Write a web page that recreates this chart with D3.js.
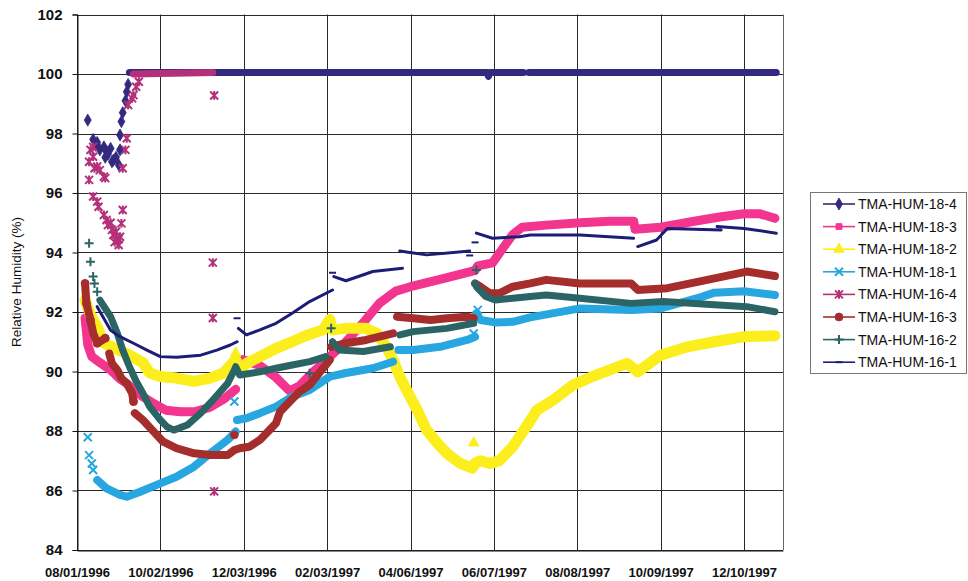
<!DOCTYPE html>
<html>
<head>
<meta charset="utf-8">
<script src="https://cdn.jsdelivr.net/npm/d3@7"></script>
<style>
  body { margin: 0; background: #ffffff; }
  svg text { font-family: "Liberation Sans", Arial, Helvetica, sans-serif; }
</style>
</head>
<body>
<svg id="chart" width="968" height="581"></svg>
<script>
// ---------- data ----------
const tickDates = ["1996-08-01", "1996-10-02", "1996-12-03", "1997-02-03", "1997-04-06",
                   "1997-06-07", "1997-08-08", "1997-10-09", "1997-12-10"];
const yTicks = [84, 86, 88, 90, 92, 94, 96, 98, 100, 102];
const axisStart = "1996-08-01";
const axisEnd = "1998-01-08";

const seriesNames = ["TMA-HUM-18-4", "TMA-HUM-18-3", "TMA-HUM-18-2", "TMA-HUM-18-1",
                     "TMA-HUM-16-4", "TMA-HUM-16-3", "TMA-HUM-16-2", "TMA-HUM-16-1"];

// continuous readings (null = break in the record) and isolated readings
const hum18_4Band = [["1996-09-09", 100.05], ["1997-06-02", 100.05], ["1997-06-03", 99.92],
  ["1997-06-04", 100.05], ["1997-06-29", 100.05], null, ["1997-07-03", 100.05], ["1998-01-03", 100.05]];
const hum18_4Spots = [["1996-08-09", 98.45], ["1996-08-13", 97.8], ["1996-08-15", 97.6], ["1996-08-16", 97.7],
  ["1996-08-18", 97.45], ["1996-08-21", 97.55], ["1996-08-22", 97.2], ["1996-08-23", 97.4], ["1996-08-24", 97.3],
  ["1996-08-26", 97.5], ["1996-08-27", 97.05], ["1996-08-28", 97.1], ["1996-08-30", 97.2], ["1996-09-01", 96.95],
  ["1996-09-02", 97.45], ["1996-09-02", 97.95], ["1996-09-03", 98.4], ["1996-09-04", 98.7], ["1996-09-06", 99.1],
  ["1996-09-07", 99.4], ["1996-09-08", 99.65]];

const hum18_3Band = [["1996-08-07", 91.8], ["1996-08-09", 90.9], ["1996-08-12", 90.5], ["1996-08-18", 90.3],
  ["1996-08-26", 90.05], ["1996-09-02", 89.75], ["1996-09-07", 89.6], ["1996-09-13", 89.35], ["1996-09-19", 89.15],
  ["1996-09-28", 88.9], ["1996-10-06", 88.7], ["1996-10-17", 88.65], ["1996-10-28", 88.65], ["1996-11-08", 88.8],
  ["1996-11-19", 89.1], ["1996-11-27", 89.4], null,
  ["1996-12-02", 90.4], ["1996-12-15", 90.2], ["1996-12-27", 89.8], ["1997-01-06", 89.35], ["1997-01-13", 89.5],
  ["1997-01-24", 90.0], ["1997-02-05", 90.5], ["1997-02-17", 91.0], ["1997-03-03", 91.7], ["1997-03-14", 92.3],
  ["1997-03-26", 92.7], ["1997-04-06", 92.85], ["1997-04-28", 93.1], ["1997-05-20", 93.35], ["1997-05-24", 93.4],
  ["1997-05-26", 93.55], ["1997-06-06", 93.65], ["1997-06-13", 94.1], ["1997-06-21", 94.6], ["1997-06-28", 94.85],
  ["1997-07-16", 94.92], ["1997-08-10", 95.0], ["1997-09-01", 95.05], ["1997-09-19", 95.05], ["1997-09-20", 94.78],
  ["1997-10-09", 94.85], ["1997-11-03", 95.05], ["1997-11-23", 95.2], ["1997-12-10", 95.3], ["1997-12-22", 95.3],
  ["1998-01-02", 95.15]];
const hum18_3Spots = [];

const hum18_2Band = [["1996-08-07", 92.4], ["1996-08-11", 91.9], ["1996-08-16", 91.5], ["1996-08-21", 90.95],
  ["1996-08-26", 90.85], ["1996-09-07", 90.6], ["1996-09-19", 90.3], ["1996-09-24", 89.95], ["1996-10-02", 89.83],
  ["1996-10-14", 89.78], ["1996-10-27", 89.67], ["1996-11-08", 89.78], ["1996-11-18", 89.95], ["1996-11-23", 90.2],
  ["1996-11-27", 90.4], ["1996-11-30", 90.05], ["1996-12-05", 90.27], ["1996-12-15", 90.5], ["1996-12-27", 90.78],
  ["1997-01-08", 91.0], ["1997-01-18", 91.2], ["1997-01-31", 91.4], ["1997-02-05", 91.75], ["1997-02-07", 91.4],
  ["1997-02-17", 91.45], ["1997-03-04", 91.45], ["1997-03-12", 91.28], ["1997-03-19", 90.83], ["1997-03-24", 90.39],
  ["1997-03-29", 89.83], ["1997-04-03", 89.38], ["1997-04-11", 88.7], ["1997-04-18", 88.03], ["1997-04-26", 87.59],
  ["1997-05-03", 87.25], ["1997-05-13", 86.91], ["1997-05-22", 86.75], ["1997-05-24", 86.92], ["1997-05-28", 87.0],
  ["1997-06-04", 86.91], ["1997-06-11", 87.0], ["1997-06-21", 87.47], ["1997-07-01", 88.14], ["1997-07-09", 88.7],
  ["1997-07-21", 89.04], ["1997-08-05", 89.55], ["1997-08-22", 89.88], ["1997-09-14", 90.27], ["1997-09-22", 89.99],
  ["1997-10-09", 90.55], ["1997-10-29", 90.83], ["1997-11-18", 91.0], ["1997-12-10", 91.17], ["1998-01-02", 91.2]];
const hum18_2Spots = [["1996-11-27", 90.62], ["1997-05-23", 87.6]];

const hum18_1Band = [["1996-08-16", 86.35], ["1996-08-23", 86.07], ["1996-09-02", 85.85], ["1996-09-07", 85.79],
  ["1996-09-17", 85.96], ["1996-10-02", 86.24], ["1996-10-14", 86.46], ["1996-10-27", 86.8], ["1996-11-08", 87.25],
  ["1996-11-21", 87.7], ["1996-11-27", 87.98], null,
  ["1996-11-28", 88.37], ["1996-12-05", 88.43], ["1996-12-15", 88.6], ["1996-12-27", 88.82], ["1997-01-08", 89.15],
  ["1997-01-21", 89.38], ["1997-02-05", 89.83], ["1997-02-17", 89.95], ["1997-03-09", 90.11], ["1997-03-24", 90.33], null,
  ["1997-03-28", 90.72], ["1997-04-08", 90.72], ["1997-04-28", 90.83], ["1997-05-18", 91.06], ["1997-05-24", 91.17], null,
  ["1997-05-25", 91.96], ["1997-05-28", 91.73], ["1997-06-08", 91.65], ["1997-06-21", 91.67], ["1997-07-04", 91.82],
  ["1997-08-10", 92.12], ["1997-09-17", 92.07], ["1997-10-09", 92.12], ["1997-11-08", 92.5], ["1997-11-18", 92.65],
  ["1997-12-10", 92.7], ["1998-01-02", 92.57]];
const hum18_1Spots = [["1996-08-09", 87.79], ["1996-08-10", 87.19], ["1996-08-12", 86.91], ["1996-08-13", 86.69],
  ["1996-11-26", 88.99], ["1997-05-23", 91.28], ["1997-05-26", 92.07]];

const hum16_4Band = [["1996-09-12", 100.0], ["1996-11-10", 100.05]];
const hum16_4Spots = [["1996-08-10", 97.05], ["1996-08-10", 96.44], ["1996-08-11", 97.45], ["1996-08-13", 97.55],
  ["1996-08-13", 97.22], ["1996-08-14", 96.83], ["1996-08-16", 96.89], ["1996-08-18", 96.77], ["1996-08-21", 96.55],
  ["1996-08-22", 96.5], ["1996-08-13", 95.88], ["1996-08-16", 95.71], ["1996-08-17", 95.54], ["1996-08-21", 95.26],
  ["1996-08-23", 95.09], ["1996-08-24", 94.92], ["1996-08-26", 95.0], ["1996-08-27", 94.76], ["1996-08-28", 94.59],
  ["1996-08-29", 94.35], ["1996-08-30", 94.7], ["1996-08-31", 94.42], ["1996-09-01", 94.25], ["1996-09-01", 94.45],
  ["1996-09-02", 94.53], ["1996-09-03", 94.98], ["1996-09-04", 95.43], ["1996-09-04", 96.83], ["1996-09-06", 97.45],
  ["1996-09-07", 97.84], ["1996-09-08", 98.96], ["1996-09-11", 99.18], ["1996-09-12", 99.29], ["1996-09-14", 99.57],
  ["1996-09-16", 99.74], ["1996-11-10", 93.66], ["1996-11-10", 91.8], ["1996-11-11", 99.28], ["1996-11-11", 85.97]];

const hum16_3Band = [["1996-08-07", 92.96], ["1996-08-08", 92.29], ["1996-08-11", 91.73], ["1996-08-13", 91.3],
  ["1996-08-16", 90.95], ["1996-08-18", 91.0], ["1996-08-22", 91.12], null,
  ["1996-08-25", 90.6], ["1996-08-27", 90.27], ["1996-08-31", 90.05], ["1996-09-03", 89.77], ["1996-09-07", 89.6],
  ["1996-09-11", 89.27], ["1996-09-12", 88.99], null,
  ["1996-09-13", 88.6], ["1996-09-19", 88.37], ["1996-09-27", 87.98], ["1996-10-04", 87.64], ["1996-10-14", 87.42],
  ["1996-10-27", 87.25], ["1996-11-08", 87.19], ["1996-11-21", 87.19], ["1996-11-26", 87.36], ["1996-11-30", 87.42],
  ["1996-12-07", 87.47], ["1996-12-15", 87.7], ["1996-12-27", 88.26], ["1996-12-30", 88.65], ["1997-01-13", 89.3],
  ["1997-01-21", 89.55], ["1997-01-28", 89.94], ["1997-02-05", 90.39], null,
  ["1997-02-06", 90.83], ["1997-02-17", 90.95], ["1997-03-04", 91.06], ["1997-03-24", 91.28], null,
  ["1997-03-27", 91.84], ["1997-04-08", 91.79], ["1997-04-21", 91.73], ["1997-05-03", 91.79], ["1997-05-18", 91.84],
  ["1997-05-23", 91.79], null,
  ["1997-05-24", 92.96], ["1997-05-28", 92.85], ["1997-06-04", 92.63], ["1997-06-11", 92.63], ["1997-06-21", 92.85],
  ["1997-07-04", 92.96], ["1997-07-16", 93.08], ["1997-08-10", 92.96], ["1997-09-17", 92.96], ["1997-09-22", 92.74],
  ["1997-10-14", 92.8], ["1997-11-18", 93.13], ["1997-12-12", 93.36], ["1998-01-02", 93.21]];
const hum16_3Spots = [["1996-08-07", 92.96], ["1996-08-08", 92.29], ["1996-08-11", 91.73], ["1996-08-16", 90.95],
  ["1996-08-22", 91.12], ["1996-09-12", 88.99], ["1996-11-26", 87.87]];

const hum16_2Band = [["1996-08-18", 92.4], ["1996-08-26", 91.84], ["1996-08-31", 91.28], ["1996-09-04", 90.72],
  ["1996-09-09", 90.16], ["1996-09-14", 89.67], ["1996-09-19", 89.27], ["1996-09-24", 88.82], ["1996-10-02", 88.37],
  ["1996-10-07", 88.14], ["1996-10-12", 88.03], ["1996-10-22", 88.2], ["1996-11-01", 88.6], ["1996-11-10", 89.04],
  ["1996-11-21", 89.6], ["1996-11-26", 90.05], ["1996-11-27", 90.16], ["1996-11-30", 89.88], ["1996-12-15", 89.99],
  ["1996-12-27", 90.11], ["1997-01-08", 90.22], ["1997-01-21", 90.33], ["1997-02-02", 90.5], null,
  ["1997-02-07", 91.0], ["1997-02-12", 90.72], ["1997-03-02", 90.67], ["1997-03-22", 90.83], null,
  ["1997-03-29", 91.23], ["1997-04-08", 91.34], ["1997-05-03", 91.45], ["1997-05-23", 91.62], null,
  ["1997-05-24", 92.96], ["1997-05-25", 92.85], ["1997-06-01", 92.52], ["1997-06-08", 92.4], ["1997-06-21", 92.46],
  ["1997-07-04", 92.52], ["1997-07-16", 92.57], ["1997-08-10", 92.46], ["1997-09-17", 92.29], ["1997-10-11", 92.35],
  ["1997-11-18", 92.24], ["1997-12-12", 92.18], ["1998-01-02", 92.01]];
const hum16_2Spots = [["1996-08-10", 94.31], ["1996-08-11", 93.69], ["1996-08-13", 93.19], ["1996-08-14", 92.96],
  ["1996-08-16", 92.68], ["1997-01-21", 89.94], ["1997-02-06", 91.45], ["1997-05-25", 93.41]];

const hum16_1Band = [["1996-08-16", 92.18], ["1996-08-26", 91.39], ["1996-09-02", 91.17], ["1996-09-12", 90.95],
  ["1996-09-22", 90.72], ["1996-10-02", 90.5], ["1996-10-14", 90.48], ["1996-11-01", 90.55], ["1996-11-13", 90.72],
  ["1996-11-23", 90.89], ["1996-11-28", 91.0], null,
  ["1996-11-29", 91.45], ["1996-12-05", 91.23], ["1996-12-15", 91.4], ["1996-12-27", 91.62], ["1997-01-08", 91.96],
  ["1997-01-21", 92.35], ["1997-02-07", 92.74], null,
  ["1997-02-08", 93.19], ["1997-02-17", 93.05], ["1997-03-09", 93.36], ["1997-03-31", 93.47], null,
  ["1997-03-29", 94.05], ["1997-04-18", 93.92], ["1997-05-20", 94.05], null,
  ["1997-05-25", 94.65], ["1997-06-06", 94.48], ["1997-06-26", 94.53], ["1997-07-04", 94.59], ["1997-08-10", 94.59],
  ["1997-09-19", 94.48], null,
  ["1997-09-22", 94.2], ["1997-10-06", 94.42], ["1997-10-14", 94.81], ["1997-11-23", 94.76], null,
  ["1997-11-20", 94.87], ["1997-12-10", 94.81], ["1998-01-03", 94.65]];
const hum16_1Spots = [["1996-11-28", 91.79], ["1997-02-07", 93.32], ["1997-05-20", 93.9], ["1997-05-24", 94.34]];

const bands = [hum18_4Band, hum18_3Band, hum18_2Band, hum18_1Band, hum16_4Band, hum16_3Band, hum16_2Band, hum16_1Band];
const spots = [hum18_4Spots, hum18_3Spots, hum18_2Spots, hum18_1Spots, hum16_4Spots, hum16_3Spots, hum16_2Spots, hum16_1Spots];

// ---------- styles ----------
const colors = ["#33297f", "#f2368f", "#fbee1c", "#27a6e0", "#b3307a", "#a52e2c", "#2b6465", "#1d1c78"];
const bandWidths = [7, 9, 11, 8, 7, 8, 7, 3];
const markerKinds = ["diamond", "square", "triangle", "x", "asterisk", "circle", "plus", "dash"];

// ---------- layout ----------
const svg = d3.select("#chart");
const plot = { left: 77, right: 783, top: 14.5, bottom: 550 };
const parse = d3.utcParse("%Y-%m-%d");

const x = d3.scaleUtc().domain([parse(axisStart), parse(axisEnd)]).range([plot.left, plot.right]);
const y = d3.scaleLinear().domain([84, 102]).range([plot.bottom, plot.top]);

// grid
const grid = svg.append("g").attr("stroke", "#2a2a2a").attr("stroke-width", 1);
grid.selectAll(".hg").data(yTicks).join("line")
  .attr("x1", plot.left).attr("x2", plot.right)
  .attr("y1", d => Math.round(y(d)) + 0.5).attr("y2", d => Math.round(y(d)) + 0.5);
grid.selectAll(".vg").data(tickDates.map(parse)).join("line")
  .attr("y1", plot.top).attr("y2", plot.bottom)
  .attr("x1", d => Math.round(x(d)) + 0.5).attr("x2", d => Math.round(x(d)) + 0.5);

// plot frame (right edge)
svg.append("line").attr("x1", plot.right + 0.5).attr("x2", plot.right + 0.5)
  .attr("y1", plot.top).attr("y2", plot.bottom).attr("stroke", "#666").attr("stroke-width", 1);

// marker shapes
function strokeSymbol(drawFn) {
  return { draw(ctx, size) { drawFn(ctx, Math.sqrt(size) / 2); } };
}
const xSym = strokeSymbol((c, r) => { c.moveTo(-r, -r); c.lineTo(r, r); c.moveTo(-r, r); c.lineTo(r, -r); });
const astSym = strokeSymbol((c, r) => {
  c.moveTo(-r, -r); c.lineTo(r, r); c.moveTo(-r, r); c.lineTo(r, -r); c.moveTo(0, -r * 1.1); c.lineTo(0, r * 1.1);
});
const plusSym = strokeSymbol((c, r) => { c.moveTo(-r, 0); c.lineTo(r, 0); c.moveTo(0, -r); c.lineTo(0, r); });
const dashSym = strokeSymbol((c, r) => { c.moveTo(-r, 0); c.lineTo(r, 0); });

const symbolFor = {
  diamond: { type: d3.symbolDiamond, size: 42, filled: true },
  square: { type: d3.symbolSquare, size: 36, filled: true },
  triangle: { type: d3.symbolTriangle, size: 50, filled: true },
  x: { type: xSym, size: 64, filled: false },
  asterisk: { type: astSym, size: 64, filled: false },
  circle: { type: d3.symbolCircle, size: 50, filled: true },
  plus: { type: plusSym, size: 81, filled: false },
  dash: { type: dashSym, size: 49, filled: false }
};

function drawMarker(sel, kind, color) {
  const s = symbolFor[kind];
  sel.attr("d", d3.symbol().type(s.type).size(s.size)())
    .attr("fill", s.filled ? color : "none")
    .attr("stroke", color)
    .attr("stroke-width", s.filled ? 0.8 : 2);
}

const toPoints = arr => arr.map(d => d ? { date: parse(d[0]), v: d[1] } : null);
const line = d3.line().defined(d => d !== null).x(d => x(d.date)).y(d => y(d.v)).curve(d3.curveLinear);

// each sensor: dense readings drawn as a thick trace, isolated readings as markers
const dataLayer = svg.append("g");
seriesNames.forEach((name, i) => {
  const g = dataLayer.append("g").attr("class", "series");
  g.append("path").datum(toPoints(bands[i]))
    .attr("d", line)
    .attr("fill", "none")
    .attr("stroke", colors[i])
    .attr("stroke-width", bandWidths[i])
    .attr("stroke-linejoin", "round")
    .attr("stroke-linecap", "round");
  g.selectAll("path.s").data(toPoints(spots[i])).join("path").attr("class", "s")
    .attr("transform", d => `translate(${x(d.date)},${y(d.v)})`)
    .call(drawMarker, markerKinds[i], colors[i]);
});

// axes
const yAxis = d3.axisLeft(y).tickValues(yTicks).tickSize(5).tickPadding(10).tickFormat(d3.format("d"));
const yg = svg.append("g").attr("transform", `translate(${plot.left + 0.5},0)`).call(yAxis);
yg.selectAll("text").attr("font-size", 15).attr("font-weight", "bold").attr("fill", "#111");
yg.selectAll("line, path").attr("stroke", "#111");

const xAxis = d3.axisBottom(x).tickValues(tickDates.map(parse)).tickSize(0).tickSizeOuter(0)
  .tickPadding(17).tickFormat(d3.utcFormat("%m/%d/%Y"));
const xg = svg.append("g").attr("transform", `translate(0,${plot.bottom + 0.5})`).call(xAxis);
xg.selectAll("text").attr("font-size", 13).attr("font-weight", "bold").attr("fill", "#111");
xg.select("path").attr("stroke", "#111");

// axis title
svg.append("text")
  .attr("transform", "translate(21,282) rotate(-90)")
  .attr("text-anchor", "middle")
  .attr("font-size", 13.5)
  .attr("fill", "#111")
  .text("Relative Humidity (%)");

// legend
const legend = svg.append("g").attr("transform", "translate(810,192)");
legend.append("rect").attr("x", 0.5).attr("y", 0.5).attr("width", 156).attr("height", 181)
  .attr("fill", "#fff").attr("stroke", "#777").attr("stroke-width", 1);
seriesNames.forEach((name, i) => {
  const row = legend.append("g").attr("transform", `translate(0,${12 + i * 22.6})`);
  row.append("line").attr("x1", 13).attr("x2", 45).attr("y1", 0).attr("y2", 0)
    .attr("stroke", colors[i]).attr("stroke-width", 1.6);
  row.append("path").attr("transform", "translate(29,0)").call(drawMarker, markerKinds[i], colors[i]);
  row.append("text").attr("x", 48).attr("y", 0).attr("dy", "0.36em")
    .attr("font-size", 14).attr("fill", "#111").text(name);
});
</script>
</body>
</html>
